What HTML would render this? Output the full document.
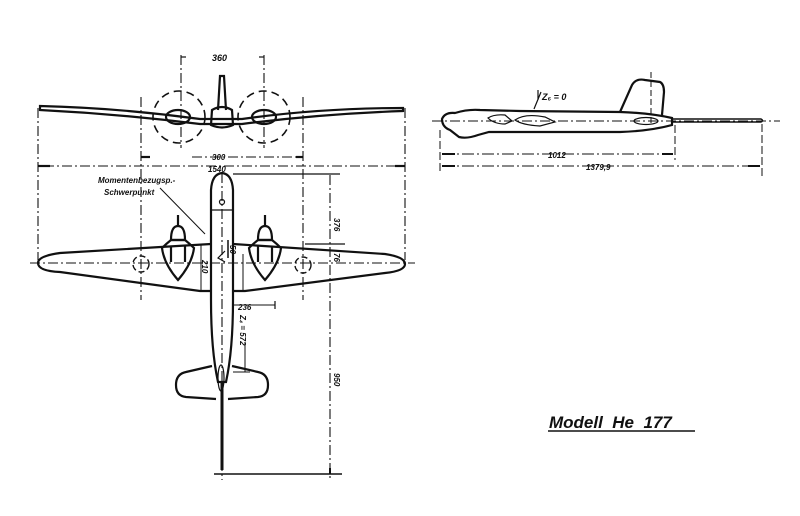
<!DOCTYPE html>
<html><head><meta charset="utf-8"><style>
html,body{margin:0;padding:0;background:#fff;width:800px;height:516px;overflow:hidden}
svg{display:block}
text{font-family:"Liberation Sans",sans-serif;font-style:italic;font-weight:bold;fill:#111}
</style></head><body>
<svg width="800" height="516" viewBox="0 0 800 516" xmlns="http://www.w3.org/2000/svg">
<g fill="none" stroke="#111" stroke-width="2.2">
<path d="M40,106 Q120,108 200,119 L242,119 Q320,108 403,108 L403,111 Q320,114 242,124 L200,124 Q120,114 40,110 Z"/>
<path d="M218,110 L220,76 L224,76 L226,110"/>
<path d="M212,110 Q222,104 232,110 L233,125 Q222,130 211,125 Z"/>
<ellipse cx="178" cy="117" rx="12" ry="7"/>
<ellipse cx="264" cy="117" rx="12" ry="7"/>
<g stroke-dasharray="8,5" stroke-width="1.6">
<circle cx="179" cy="117" r="26"/><circle cx="264" cy="117" r="26"/>
</g>
<g stroke-width="1.1" stroke-dasharray="10,3,2,3">
<line x1="181" y1="55" x2="181" y2="148"/><line x1="264" y1="55" x2="264" y2="148"/>
<line x1="141" y1="97" x2="141" y2="300"/><line x1="303" y1="97" x2="303" y2="300"/>
<line x1="38" y1="108" x2="38" y2="260"/><line x1="405" y1="108" x2="405" y2="260"/>
<line x1="192" y1="157" x2="296" y2="157"/>
<line x1="44" y1="166" x2="400" y2="166"/>
<line x1="330" y1="175" x2="330" y2="478"/>
<line x1="222" y1="173" x2="222" y2="480"/>
<line x1="30" y1="263" x2="415" y2="263"/>
</g>
<line x1="181" y1="57" x2="186" y2="57" stroke-width="1.2"/><line x1="259" y1="57" x2="264" y2="57" stroke-width="1.2"/>
<line x1="141" y1="157" x2="150" y2="157"/><line x1="296" y1="157" x2="303" y2="157"/>
<line x1="38" y1="166" x2="50" y2="166"/><line x1="395" y1="166" x2="405" y2="166"/>
<line x1="233" y1="174" x2="340" y2="174" stroke-width="1.2"/>
<line x1="305" y1="244" x2="345" y2="244" stroke-width="1.2"/>
<path d="M211,244 L60,253 Q38,256 38,263 Q38,271 60,272 L200,291 L211,291"/>
<path d="M233,244 L385,254 Q405,257 405,264 Q405,271 385,273 L245,291 L233,291"/>
<path d="M211,300 L211,190 Q212,174 222,173 Q232,174 233,190 L233,300 Q233,350 226,382 L218,382 Q211,350 211,300"/>
<line x1="211" y1="210" x2="233" y2="210" stroke-width="1.2"/>
<circle cx="222" cy="202" r="2.5" stroke-width="1.2"/>
<path d="M222,382 L222,470" stroke-width="3"/>
<path d="M212,366 L186,372 Q176,374 176,385 Q176,396 186,397 L216,399"/>
<path d="M232,366 L258,372 Q268,374 268,385 Q268,396 258,397 L228,399"/>
<ellipse cx="221" cy="378" rx="3" ry="13" stroke-width="1.2"/>
<g id="nac">
<path d="M178,215 L178,227"/>
<path d="M171,240 Q171,226 178,226 Q185,226 185,240 Z"/>
<path d="M162,248 Q166,244 171,240 L185,240 Q190,244 194,248 Q192,264 178,280 Q164,264 162,248 Z"/>
<path d="M171,246 L171,262 M185,246 L185,262"/>
</g>
<use href="#nac" transform="translate(87,0)"/>
<circle cx="141" cy="264" r="8" stroke-dasharray="6,3" stroke-width="1.4"/>
<circle cx="303" cy="265" r="8" stroke-dasharray="6,3" stroke-width="1.4"/>
<line x1="201" y1="245" x2="201" y2="290" stroke-width="1"/>
<line x1="243" y1="254" x2="243" y2="290" stroke-width="1"/>
<line x1="233" y1="305" x2="275" y2="305" stroke-width="1"/>
<line x1="275" y1="301" x2="275" y2="309" stroke-width="1.2"/>
<line x1="245" y1="342" x2="245" y2="372" stroke-width="1"/>
<line x1="233" y1="372" x2="250" y2="372" stroke-width="1"/>
<line x1="214" y1="474" x2="342" y2="474" stroke-width="1.4"/>
<line x1="330" y1="468" x2="330" y2="474" stroke-width="2"/>
<path d="M160,188 L205,234" stroke-width="1"/>
<path d="M225,251 L218,258 L225,262" stroke-width="1.2"/>
<line x1="228" y1="240" x2="228" y2="258" stroke-width="1.5"/>
<line x1="432" y1="121" x2="780" y2="121" stroke-width="1" stroke-dasharray="10,3,2,3"/>
<path d="M455,113 Q445,112 442,119 Q442,127 450,130 L459,137 Q467,139 478,135 L489,132 L620,132 Q650,131 672,125 L672,118 Q650,113 620,112 L520,111 L480,110 Q468,109 455,113 Z"/>
<path d="M620,112 L632,85 Q636,78 645,80 L660,82 Q664,84 664,92 L662,115"/>
<line x1="651" y1="72" x2="651" y2="125" stroke-width="1" stroke-dasharray="6,3"/>
<path d="M672,119 L761,119 Q764,120.5 761,122 L672,122 Z" stroke-width="1.5"/>
<path d="M488,118 Q494,114 505,115 L512,121 L505,124 Q494,124 488,118 Z" stroke-width="1.2"/>
<path d="M515,120 Q525,113 545,117 L555,122 L540,126 Q522,125 515,120 Z" stroke-width="1.2"/>
<ellipse cx="646" cy="121" rx="12" ry="3.5" stroke-width="1.2"/>
<path d="M534,109 L541,92 M538,100 L538,90" stroke-width="1.2"/>
<line x1="440" y1="130" x2="440" y2="173" stroke-width="1" stroke-dasharray="8,3"/>
<line x1="675" y1="125" x2="675" y2="160" stroke-width="1" stroke-dasharray="8,3"/>
<line x1="762" y1="124" x2="762" y2="177" stroke-width="1" stroke-dasharray="8,3"/>
<line x1="442" y1="154" x2="673" y2="154" stroke-width="1" stroke-dasharray="12,3,2,3"/>
<line x1="442" y1="166" x2="760" y2="166" stroke-width="1" stroke-dasharray="12,3,2,3"/>
<line x1="442" y1="154" x2="455" y2="154" stroke-width="2"/><line x1="662" y1="154" x2="673" y2="154" stroke-width="2"/>
<line x1="442" y1="166" x2="455" y2="166" stroke-width="2"/><line x1="748" y1="166" x2="760" y2="166" stroke-width="2"/>
<line x1="548" y1="431" x2="695" y2="431" stroke-width="1.4"/>
</g>
<text x="212" y="61" font-size="9">360</text>
<text x="212" y="160" font-size="8">300</text>
<text x="208" y="172" font-size="8">1540</text>
<text x="98" y="183" font-size="8">Momentenbezugsp.-</text>
<text x="104" y="195" font-size="8">Schwerpunkt</text>
<text x="0" y="0" font-size="8" transform="translate(334,218) rotate(90)">376</text>
<text x="0" y="0" font-size="8" transform="translate(334,253) rotate(90)">76</text>
<text x="0" y="0" font-size="8" transform="translate(202,260) rotate(90)">210</text>
<text x="0" y="0" font-size="8" transform="translate(230,245) rotate(90)">50</text>
<text x="238" y="310" font-size="8">236</text>
<text x="0" y="0" font-size="8" transform="translate(240,315) rotate(90)">Z₄ = 572</text>
<text x="0" y="0" font-size="8" transform="translate(334,373) rotate(90)">950</text>
<text x="542" y="100" font-size="9">Z₆ = 0</text>
<text x="548" y="158" font-size="8">1012</text>
<text x="586" y="170" font-size="8">1379,9</text>
<text x="549" y="428" font-size="17" font-weight="normal">Modell&#160;&#160;He&#160;&#160;177</text>
</svg>
</body></html>
